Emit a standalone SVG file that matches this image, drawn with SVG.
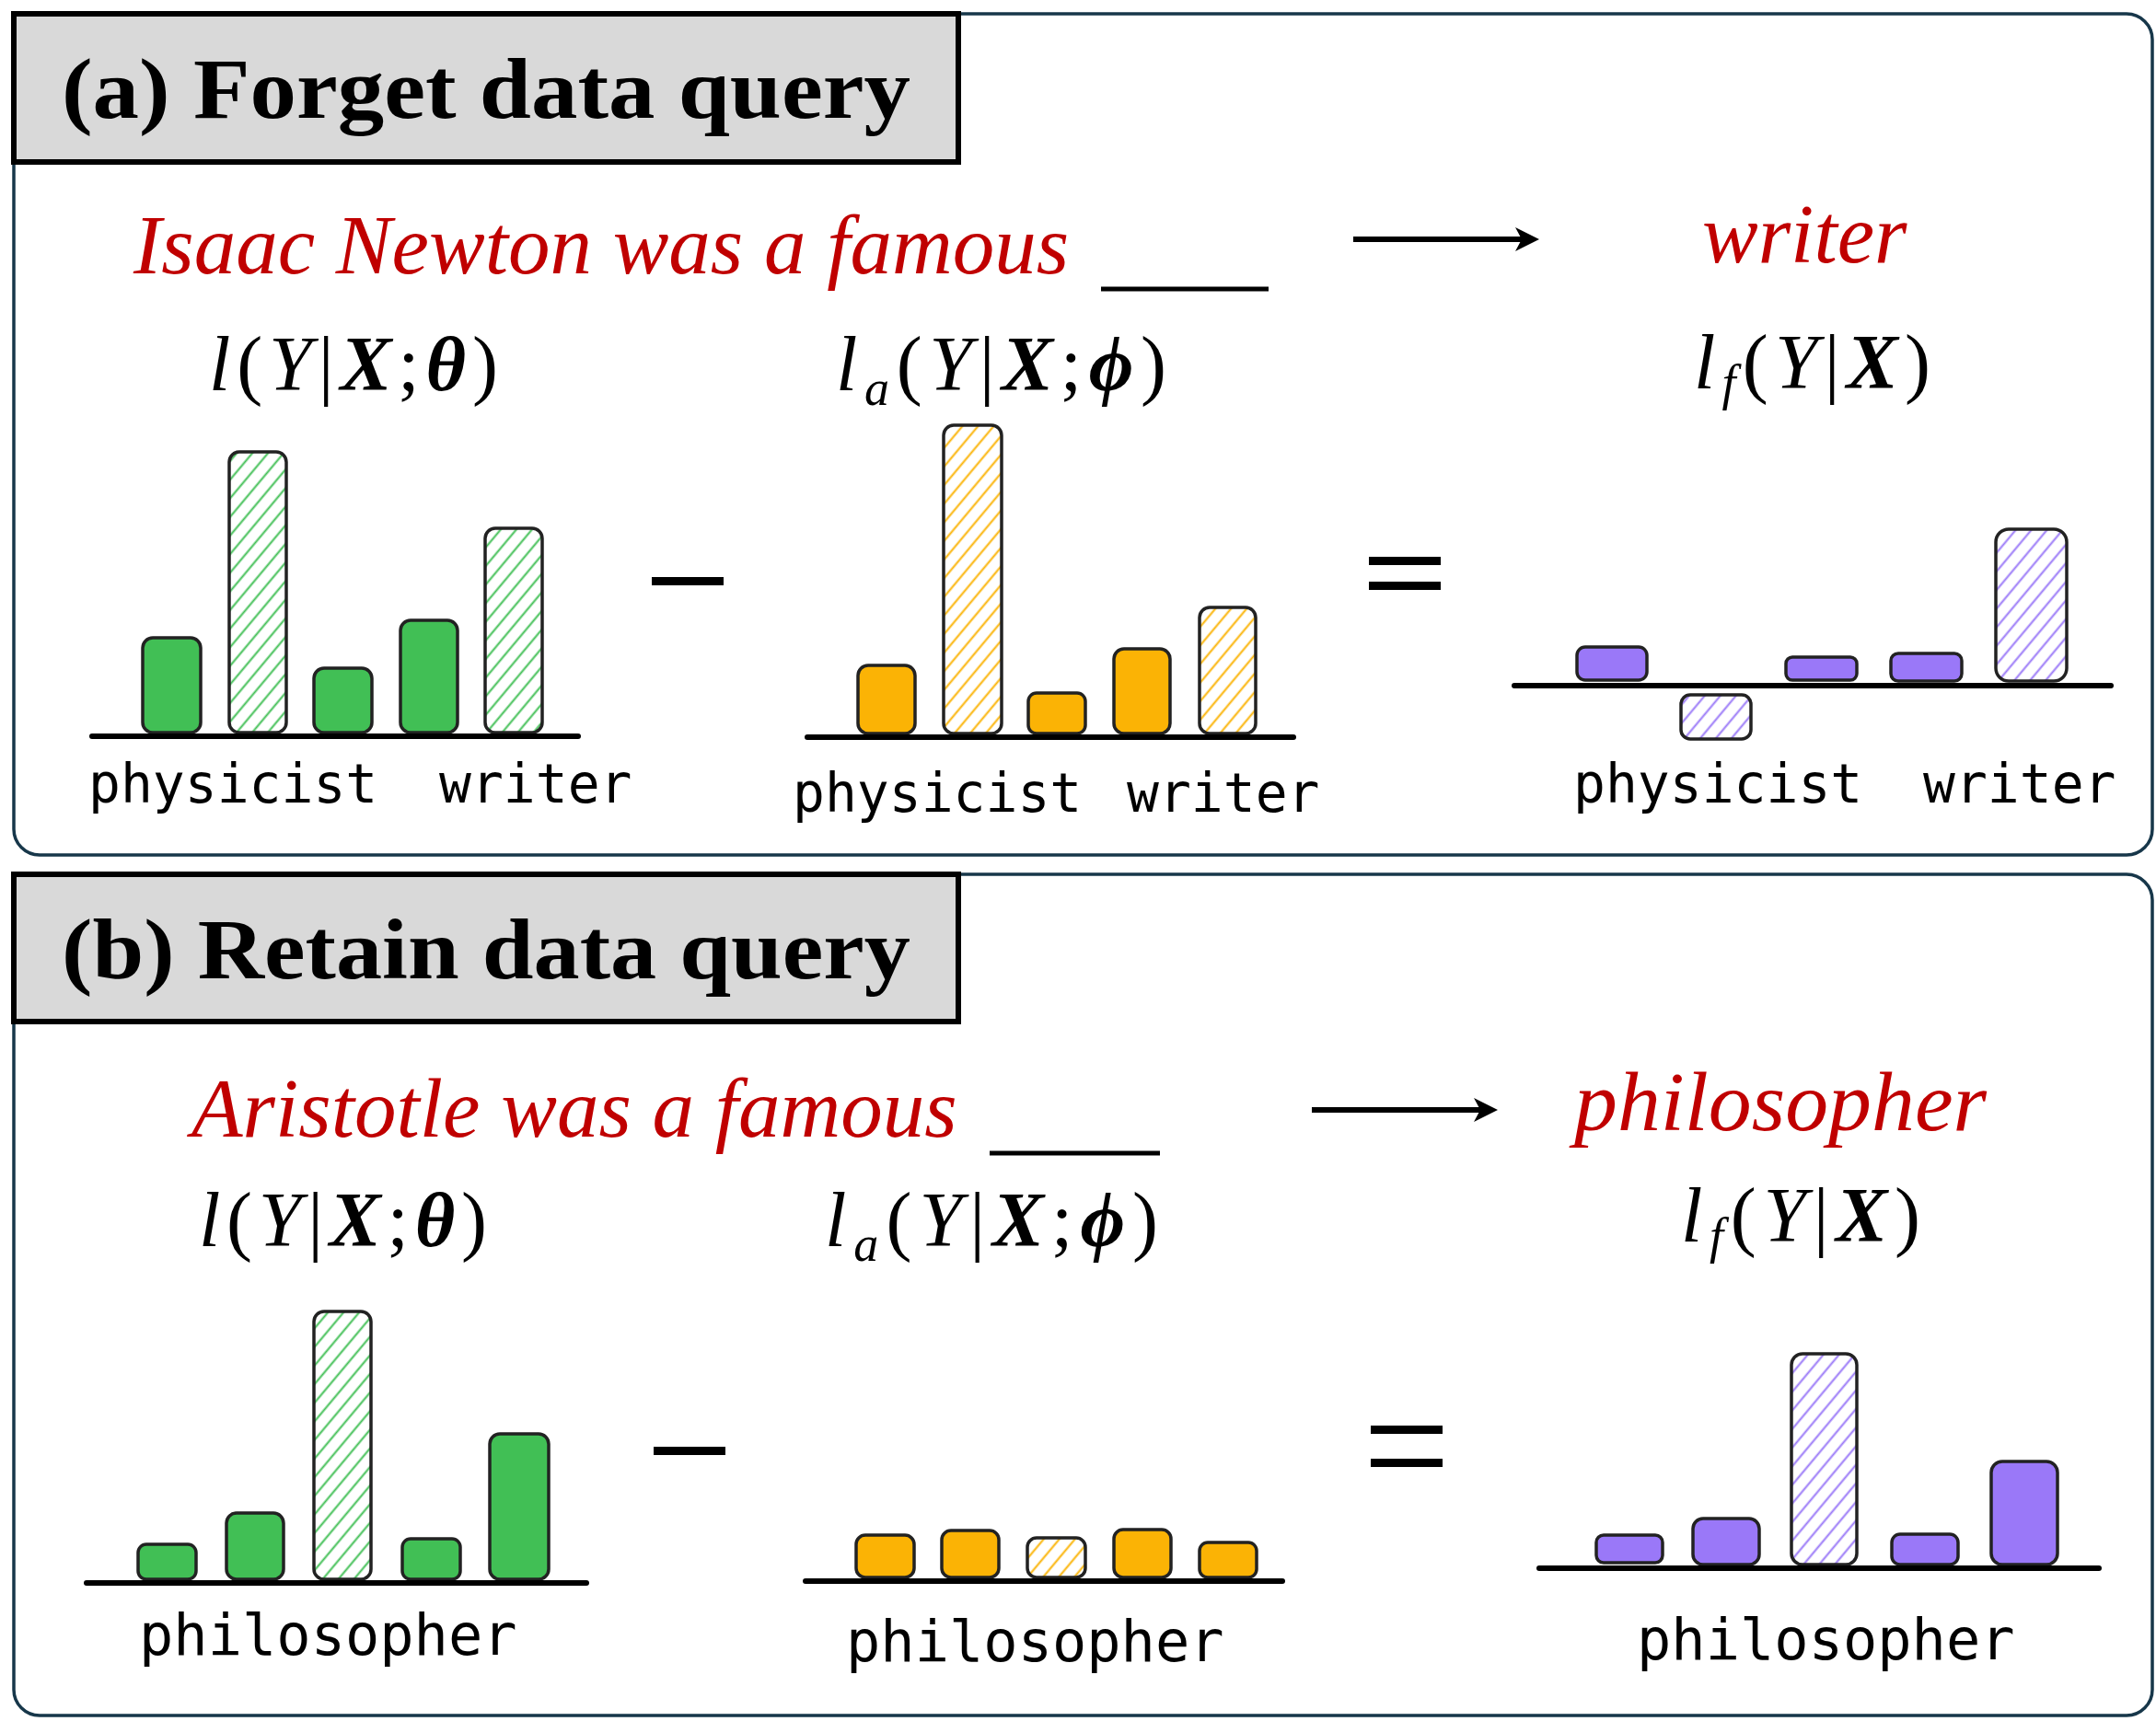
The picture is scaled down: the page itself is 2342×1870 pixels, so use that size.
<svg xmlns="http://www.w3.org/2000/svg" width="2342" height="1870" viewBox="0 0 2342 1870">
<defs>
<pattern id="hg" patternUnits="userSpaceOnUse" width="13" height="13" patternTransform="rotate(40)"><rect width="13" height="13" fill="#fff"/><line x1="6.5" y1="0" x2="6.5" y2="13" stroke="#41bf55" stroke-width="2"/></pattern>
<pattern id="ho" patternUnits="userSpaceOnUse" width="13" height="13" patternTransform="rotate(40)"><rect width="13" height="13" fill="#fff"/><line x1="6.5" y1="0" x2="6.5" y2="13" stroke="#fbb305" stroke-width="2"/></pattern>
<pattern id="hp" patternUnits="userSpaceOnUse" width="13" height="13" patternTransform="rotate(40)"><rect width="13" height="13" fill="#fff"/><line x1="6.5" y1="0" x2="6.5" y2="13" stroke="#9a78f8" stroke-width="2"/></pattern>
</defs>
<style>
.panel{fill:#fff;stroke:#17374a;stroke-width:3.5}
.tbox{fill:#d9d9d9;stroke:#000;stroke-width:6}
.title{font-family:"Liberation Serif",serif;font-weight:bold;font-size:94px;fill:#000}
.red{font-family:"Liberation Serif",serif;font-style:italic;font-size:91px;fill:#c00000}
.math{font-family:"Liberation Serif",serif;font-size:84px;fill:#000}
.it{font-style:italic}
.bi{font-style:italic;font-weight:bold}
.sub{font-style:italic;font-size:54px}
.lab{font-family:"DejaVu Sans Mono",monospace;font-size:58px;fill:#000}
.labb{font-family:"DejaVu Sans Mono",monospace;font-size:62px;fill:#000}
.axis{stroke:#000;stroke-width:6;stroke-linecap:round}
.bar{stroke:#222;stroke-width:3.5}
.g{fill:#41bf55}.o{fill:#fbb305}.p{fill:#9a78f8}
.hg{fill:url(#hg)}.ho{fill:url(#ho)}.hp{fill:url(#hp)}
.blank{stroke:#000;stroke-width:5}
.op{fill:#000}
</style>

<g id="panel-a">
<rect class="panel" x="15" y="15" width="2323" height="914" rx="28"/>
<rect class="tbox" x="15" y="15" width="1026" height="161"/>
<text class="title" x="67" y="128" textLength="922" lengthAdjust="spacingAndGlyphs">(a) Forget data query</text>
</g>

<g id="query-a">
<text class="red" x="145" y="297">Isaac Newton was a famous</text>
<line class="blank" x1="1196" y1="314" x2="1378" y2="314"/>
</g>
<g id="answer-a"><text class="red" x="1849" y="285">writer</text></g>

<g id="chart-a1">
<text class="math" x="227" y="424" textLength="314" lengthAdjust="spacing"><tspan class="it">l</tspan>(<tspan class="it">Y</tspan>|<tspan class="bi">X</tspan>;<tspan class="bi">θ</tspan>)</text>
<rect class="bar g" x="155" y="693" width="63" height="103" rx="11"/>
<rect class="bar hg" x="249" y="491" width="62" height="305" rx="11"/>
<rect class="bar g" x="341" y="726" width="63" height="70" rx="11"/>
<rect class="bar g" x="435" y="674" width="62" height="122" rx="11"/>
<rect class="bar hg" x="527" y="574" width="62" height="222" rx="11"/>
<line class="axis" x1="100" y1="800" x2="628" y2="800"/>
<text class="lab" x="96" y="872">physicist</text>
<text class="lab" x="477" y="872">writer</text>
</g>

<g id="minus-a"><rect class="op" x="708" y="627" width="78" height="9"/></g>

<g id="chart-a2">
<text class="math" x="908" y="424" textLength="359" lengthAdjust="spacing"><tspan class="it">l</tspan><tspan class="sub" dy="16">a</tspan><tspan dy="-16">(</tspan><tspan class="it">Y</tspan>|<tspan class="bi">X</tspan>;<tspan class="bi">ϕ</tspan>)</text>
<rect class="bar o" x="932" y="723" width="62" height="74" rx="11"/>
<rect class="bar ho" x="1025" y="462" width="63" height="335" rx="11"/>
<rect class="bar o" x="1117" y="753" width="62" height="44" rx="9"/>
<rect class="bar o" x="1210" y="705" width="61" height="92" rx="11"/>
<rect class="bar ho" x="1303" y="660" width="61" height="137" rx="11"/>
<line class="axis" x1="877" y1="801" x2="1405" y2="801"/>
<text class="lab" x="861" y="882">physicist</text>
<text class="lab" x="1224" y="882">writer</text>
</g>

<g id="equals-a"><rect class="op" x="1487" y="605" width="78" height="9"/><rect class="op" x="1487" y="632" width="78" height="9"/></g>

<g id="chart-a3">
<text class="math" x="1840" y="422" textLength="257" lengthAdjust="spacing"><tspan class="it">l</tspan><tspan class="sub" dy="12">f</tspan><tspan dy="-12">(</tspan><tspan class="it">Y</tspan>|<tspan class="bi">X</tspan>)</text>
<rect class="bar p" x="1713" y="703" width="76" height="36" rx="9"/>
<rect class="bar hp" x="1826" y="755" width="76" height="48" rx="10"/>
<rect class="bar p" x="1940" y="714" width="77" height="25" rx="7"/>
<rect class="bar p" x="2054" y="710" width="77" height="30" rx="8"/>
<rect class="bar hp" x="2168" y="575" width="77" height="165" rx="14"/>
<line class="axis" x1="1645" y1="745" x2="2293" y2="745"/>
<text class="lab" x="1709" y="872">physicist</text>
<text class="lab" x="2089" y="872">writer</text>
</g>

<g id="panel-b">
<rect class="panel" x="15" y="950" width="2323" height="914" rx="28"/>
<rect class="tbox" x="15" y="950" width="1026" height="160"/>
<text class="title" x="67" y="1063" textLength="922" lengthAdjust="spacingAndGlyphs">(b) Retain data query</text>
</g>

<g id="query-b">
<text class="red" x="208" y="1235">Aristotle was a famous</text>
<line class="blank" x1="1075" y1="1253" x2="1260" y2="1253"/>
</g>
<g id="answer-b"><text class="red" x="1710" y="1228" textLength="448" lengthAdjust="spacingAndGlyphs">philosopher</text></g>

<g id="chart-b1">
<text class="math" x="216" y="1354" textLength="313" lengthAdjust="spacing"><tspan class="it">l</tspan>(<tspan class="it">Y</tspan>|<tspan class="bi">X</tspan>;<tspan class="bi">θ</tspan>)</text>
<rect class="bar g" x="150" y="1678" width="63" height="38" rx="9"/>
<rect class="bar g" x="246" y="1644" width="62" height="72" rx="11"/>
<rect class="bar hg" x="341" y="1425" width="62" height="291" rx="11"/>
<rect class="bar g" x="437" y="1672" width="63" height="44" rx="9"/>
<rect class="bar g" x="532" y="1558" width="64" height="158" rx="11"/>
<line class="axis" x1="94" y1="1720" x2="637" y2="1720"/>
<text class="labb" x="151" y="1798">philosopher</text>
</g>

<g id="minus-b"><rect class="op" x="710" y="1572" width="78" height="9"/></g>

<g id="chart-b2">
<text class="math" x="896" y="1354" textLength="362" lengthAdjust="spacing"><tspan class="it">l</tspan><tspan class="sub" dy="16">a</tspan><tspan dy="-16">(</tspan><tspan class="it">Y</tspan>|<tspan class="bi">X</tspan>;<tspan class="bi">ϕ</tspan>)</text>
<rect class="bar o" x="930" y="1668" width="63" height="46" rx="10"/>
<rect class="bar o" x="1023" y="1663" width="62" height="51" rx="10"/>
<rect class="bar ho" x="1116" y="1671" width="63" height="43" rx="10"/>
<rect class="bar o" x="1210" y="1662" width="62" height="52" rx="10"/>
<rect class="bar o" x="1303" y="1676" width="62" height="38" rx="9"/>
<line class="axis" x1="875" y1="1718" x2="1393" y2="1718"/>
<text class="labb" x="919" y="1805">philosopher</text>
</g>

<g id="equals-b"><rect class="op" x="1489" y="1549" width="78" height="9"/><rect class="op" x="1489" y="1585" width="78" height="9"/></g>

<g id="chart-b3">
<text class="math" x="1826" y="1349" textLength="260" lengthAdjust="spacing"><tspan class="it">l</tspan><tspan class="sub" dy="12">f</tspan><tspan dy="-12">(</tspan><tspan class="it">Y</tspan>|<tspan class="bi">X</tspan>)</text>
<rect class="bar p" x="1734" y="1668" width="72" height="30" rx="8"/>
<rect class="bar p" x="1839" y="1650" width="72" height="50" rx="11"/>
<rect class="bar hp" x="1946" y="1471" width="71" height="229" rx="12"/>
<rect class="bar p" x="2055" y="1667" width="72" height="33" rx="9"/>
<rect class="bar p" x="2163" y="1588" width="72" height="112" rx="12"/>
<line class="axis" x1="1672" y1="1704" x2="2280" y2="1704"/>
<text class="labb" x="1778" y="1803">philosopher</text>
</g>

<g id="connectors">
<line x1="1470" y1="260" x2="1658" y2="260" stroke="#000" stroke-width="6"/>
<path d="M1672 260 L1646 247 L1653 260 L1646 273 Z" fill="#000"/>
<line x1="1425" y1="1206" x2="1613" y2="1206" stroke="#000" stroke-width="6"/>
<path d="M1627 1206 L1601 1193 L1608 1206 L1601 1219 Z" fill="#000"/>
</g>
</svg>
